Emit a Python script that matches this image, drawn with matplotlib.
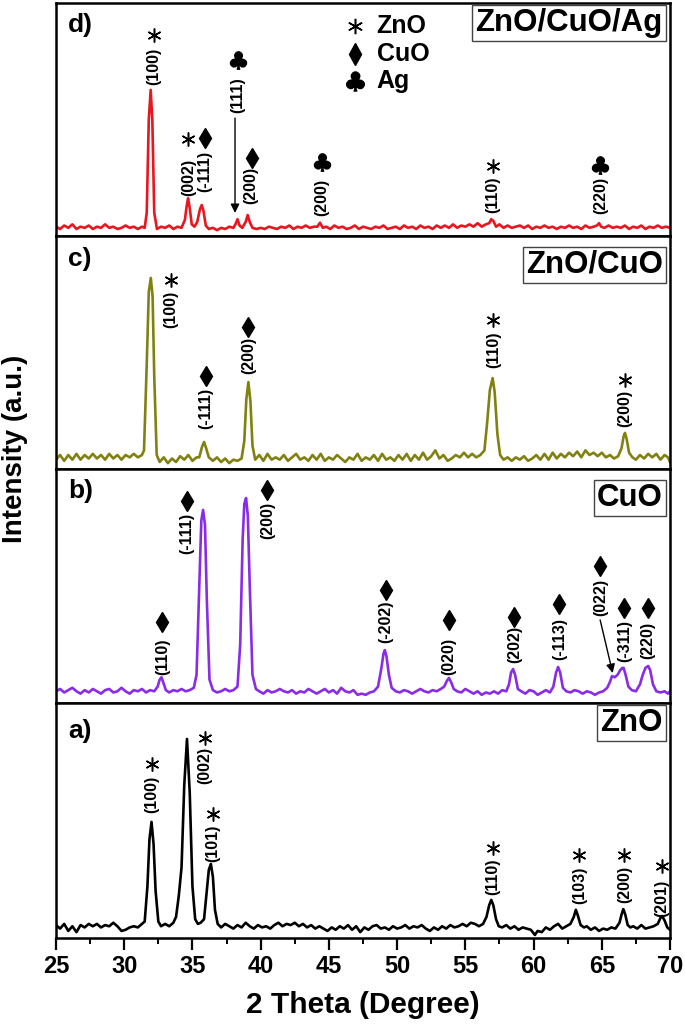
import matplotlib
matplotlib.use("Agg")
import matplotlib.pyplot as plt

plt.rcParams['font.family'] = ['Liberation Sans', 'DejaVu Sans']
plt.rcParams['font.weight'] = 'bold'

# ---------------- data: (2 theta, intensity in % of panel height) -------------
zno_points = [
    (25.0, 5.5), (25.3, 4.0), (25.6, 6.0), (25.9, 3.0), (26.2, 5.0), (26.5, 2.5), (26.8, 5.5),
    (27.1, 4.5), (27.4, 6.0), (27.7, 5.0), (28.0, 6.0), (28.3, 4.5), (28.6, 5.5), (28.9, 5.0),
    (29.2, 6.5), (29.5, 5.0), (29.8, 3.0), (30.1, 3.5), (30.4, 4.5), (30.7, 5.0), (31.0, 4.5),
    (31.3, 6.0), (31.5, 7.0), (31.7, 22.0), (31.85, 42.0), (32.0, 49.4), (32.15, 40.0),
    (32.3, 20.0), (32.5, 7.0), (32.7, 5.0), (33.0, 6.0), (33.3, 5.0), (33.6, 6.5), (33.8, 9.0),
    (34.0, 18.0), (34.2, 30.0), (34.4, 65.0), (34.6, 84.7), (34.8, 62.0), (35.0, 22.0),
    (35.2, 8.0), (35.4, 6.0), (35.6, 6.5), (35.85, 8.0), (36.05, 20.0), (36.2, 29.0),
    (36.35, 31.5), (36.5, 26.0), (36.65, 12.0), (36.85, 6.0), (37.1, 4.5), (37.4, 6.0),
    (37.7, 5.0), (38.0, 4.0), (38.3, 5.5), (38.6, 4.5), (38.9, 6.5), (39.2, 5.0), (39.5, 4.0),
    (39.8, 5.5), (40.1, 4.5), (40.4, 5.0), (40.7, 4.0), (41.0, 5.5), (41.3, 6.5), (41.6, 5.0),
    (41.9, 6.0), (42.2, 5.5), (42.5, 6.5), (42.8, 5.0), (43.1, 6.0), (43.4, 4.5), (43.7, 5.5),
    (44.0, 4.0), (44.3, 5.0), (44.6, 4.0), (44.9, 3.0), (45.2, 4.5), (45.5, 3.5), (45.8, 5.0),
    (46.1, 4.0), (46.4, 5.5), (46.7, 3.5), (47.0, 5.0), (47.3, 2.5), (47.6, 4.5), (47.9, 3.5),
    (48.2, 5.0), (48.5, 5.5), (48.8, 4.0), (49.1, 4.5), (49.4, 3.5), (49.7, 5.0), (50.0, 4.0),
    (50.3, 4.5), (50.6, 5.5), (50.9, 4.0), (51.2, 5.0), (51.5, 4.5), (51.8, 5.5), (52.1, 4.0),
    (52.4, 3.0), (52.7, 4.5), (53.0, 3.5), (53.3, 5.0), (53.6, 4.0), (53.9, 5.5), (54.2, 4.5),
    (54.5, 5.0), (54.8, 6.0), (55.1, 5.0), (55.4, 6.5), (55.7, 6.0), (56.0, 5.0), (56.3, 6.0),
    (56.55, 9.0), (56.75, 14.0), (56.9, 16.2), (57.05, 14.0), (57.25, 8.0), (57.45, 5.0),
    (57.7, 4.5), (58.0, 5.5), (58.3, 4.0), (58.6, 5.0), (58.9, 3.5), (59.2, 4.5), (59.5, 4.0),
    (59.8, 3.5), (60.1, 1.3), (60.3, 3.0), (60.6, 2.5), (60.9, 4.5), (61.2, 3.5), (61.5, 5.0),
    (61.8, 6.0), (62.1, 4.0), (62.4, 5.0), (62.7, 6.0), (62.95, 9.0), (63.1, 12.0),
    (63.25, 9.5), (63.45, 5.5), (63.7, 4.5), (63.9, 5.0), (64.2, 3.5), (64.5, 4.5), (64.8, 3.0),
    (65.1, 4.0), (65.4, 3.5), (65.7, 4.5), (66.0, 4.0), (66.3, 6.5), (66.45, 10.0),
    (66.58, 12.3), (66.72, 10.0), (66.9, 5.5), (67.1, 4.5), (67.3, 5.0), (67.6, 4.0),
    (67.9, 5.5), (68.2, 4.0), (68.5, 4.5), (68.8, 5.0), (69.1, 6.0), (69.3, 8.5),
    (69.42, 9.4), (69.6, 7.5), (69.8, 4.5), (70.0, 3.5),
]

cuo_points = [
    (25.0, 5.0), (25.3, 6.0), (25.6, 4.5), (25.9, 5.5), (26.2, 6.5), (26.5, 5.0), (26.8, 4.0),
    (27.1, 5.5), (27.4, 4.5), (27.7, 6.0), (28.0, 5.0), (28.3, 4.0), (28.6, 5.5), (28.9, 6.0),
    (29.2, 4.5), (29.5, 5.0), (29.8, 6.5), (30.1, 5.0), (30.4, 4.0), (30.7, 5.5), (31.0, 5.0),
    (31.3, 6.0), (31.6, 4.5), (31.9, 5.5), (32.2, 5.0), (32.45, 7.0), (32.6, 10.0),
    (32.73, 11.0), (32.85, 9.0), (33.05, 5.5), (33.3, 4.5), (33.6, 5.5), (33.9, 5.0),
    (34.2, 6.0), (34.5, 5.0), (34.8, 5.5), (35.1, 6.5), (35.3, 12.0), (35.5, 50.0),
    (35.65, 78.0), (35.78, 82.5), (35.92, 76.0), (36.05, 45.0), (36.25, 10.0), (36.5, 5.5),
    (36.8, 4.5), (37.1, 5.0), (37.4, 6.0), (37.7, 5.0), (38.0, 5.5), (38.3, 7.0), (38.5, 25.0),
    (38.68, 70.0), (38.8, 85.0), (38.93, 87.6), (39.06, 80.0), (39.2, 50.0), (39.4, 12.0),
    (39.65, 6.0), (39.9, 5.0), (40.2, 4.0), (40.5, 5.5), (40.8, 4.5), (41.1, 5.0), (41.4, 6.0),
    (41.7, 5.0), (42.0, 4.5), (42.3, 5.5), (42.6, 4.0), (42.9, 5.0), (43.2, 4.5), (43.5, 6.0),
    (43.8, 5.0), (44.1, 4.0), (44.4, 5.0), (44.7, 6.0), (45.0, 4.5), (45.3, 5.5), (45.6, 4.0),
    (45.9, 6.5), (46.2, 5.0), (46.5, 4.5), (46.8, 5.5), (47.1, 3.5), (47.4, 4.0), (47.7, 3.5),
    (48.0, 4.5), (48.3, 5.0), (48.6, 7.0), (48.85, 15.0), (49.0, 21.0), (49.1, 22.6),
    (49.22, 20.0), (49.4, 12.0), (49.6, 6.5), (49.9, 5.0), (50.2, 4.5), (50.5, 5.5),
    (50.8, 5.0), (51.1, 4.0), (51.4, 5.0), (51.7, 6.0), (52.0, 5.0), (52.3, 4.5), (52.6, 5.5),
    (52.9, 5.0), (53.2, 6.0), (53.45, 7.0), (53.65, 9.5), (53.8, 10.7), (53.95, 9.0),
    (54.15, 6.0), (54.4, 5.0), (54.7, 4.5), (55.0, 6.0), (55.3, 5.0), (55.6, 4.0), (55.9, 5.0),
    (56.2, 3.5), (56.5, 4.5), (56.8, 4.0), (57.1, 5.0), (57.4, 4.0), (57.7, 5.5), (58.0, 5.0),
    (58.2, 8.0), (58.35, 13.0), (58.5, 14.5), (58.65, 12.0), (58.85, 6.0), (59.1, 5.0),
    (59.4, 4.0), (59.7, 5.5), (60.0, 5.0), (60.3, 3.5), (60.6, 4.5), (60.9, 5.5), (61.2, 4.5),
    (61.45, 7.0), (61.65, 13.0), (61.8, 15.4), (61.95, 13.0), (62.15, 6.5), (62.4, 5.0),
    (62.7, 4.5), (63.0, 5.5), (63.3, 5.0), (63.6, 4.0), (63.9, 5.0), (64.2, 4.5), (64.5, 3.5),
    (64.8, 4.5), (65.1, 5.0), (65.4, 6.5), (65.6, 9.0), (65.75, 11.5), (65.95, 11.0),
    (66.15, 12.0), (66.35, 14.0), (66.5, 15.0), (66.6, 15.0), (66.75, 12.0), (66.95, 7.0),
    (67.2, 5.5), (67.5, 5.0), (67.8, 8.0), (68.0, 12.0), (68.2, 15.0), (68.4, 15.8),
    (68.55, 14.0), (68.75, 8.0), (69.0, 5.0), (69.3, 4.5), (69.6, 5.0), (69.85, 4.0),
    (70.0, 5.0),
]

znocuo_points = [
    (25.0, 4.0), (25.3, 6.0), (25.6, 3.5), (25.9, 6.0), (26.2, 4.0), (26.5, 6.5), (26.8, 4.0),
    (27.1, 6.0), (27.4, 4.5), (27.7, 6.5), (28.0, 4.5), (28.3, 6.0), (28.6, 4.0), (28.9, 6.5),
    (29.2, 4.5), (29.5, 6.0), (29.8, 4.0), (30.1, 6.0), (30.4, 5.0), (30.7, 6.5), (31.0, 5.0),
    (31.3, 6.0), (31.45, 8.0), (31.65, 45.0), (31.8, 76.0), (31.95, 82.0), (32.08, 74.0),
    (32.2, 40.0), (32.38, 6.0), (32.6, 3.0), (32.9, 5.0), (33.2, 2.5), (33.5, 4.5), (33.8, 3.0),
    (34.1, 5.5), (34.4, 4.0), (34.7, 6.0), (35.0, 3.5), (35.3, 5.0), (35.5, 5.0), (35.7, 9.5),
    (35.85, 11.6), (36.0, 9.0), (36.2, 5.0), (36.5, 3.5), (36.8, 5.0), (37.1, 3.0), (37.4, 4.5),
    (37.7, 2.5), (38.0, 4.0), (38.3, 3.5), (38.6, 4.5), (38.8, 12.0), (38.95, 30.0),
    (39.1, 37.3), (39.25, 29.0), (39.4, 10.0), (39.6, 4.0), (39.9, 6.0), (40.2, 3.5),
    (40.5, 6.5), (40.8, 4.0), (41.1, 5.0), (41.4, 4.0), (41.7, 6.0), (42.0, 3.5), (42.3, 5.0),
    (42.6, 6.5), (42.9, 4.0), (43.2, 5.0), (43.5, 3.5), (43.8, 6.0), (44.1, 4.0), (44.4, 6.5),
    (44.7, 3.5), (45.0, 5.0), (45.3, 4.0), (45.6, 6.0), (45.9, 4.5), (46.2, 3.0), (46.5, 5.0),
    (46.8, 4.0), (47.1, 6.5), (47.4, 3.5), (47.7, 5.0), (48.0, 4.0), (48.3, 6.0), (48.6, 3.5),
    (48.9, 6.5), (49.2, 4.0), (49.5, 5.0), (49.8, 3.5), (50.1, 6.0), (50.4, 4.0), (50.7, 6.5),
    (51.0, 3.5), (51.3, 6.0), (51.6, 4.0), (51.9, 7.0), (52.2, 4.0), (52.5, 5.5), (52.8, 8.0),
    (53.1, 4.5), (53.4, 6.0), (53.7, 3.5), (54.0, 4.5), (54.3, 6.0), (54.6, 5.0), (54.9, 7.0),
    (55.2, 5.0), (55.5, 6.5), (55.8, 5.0), (56.1, 6.0), (56.4, 8.0), (56.6, 20.0), (56.8, 34.0),
    (57.0, 39.0), (57.15, 33.0), (57.35, 15.0), (57.55, 6.0), (57.8, 4.0), (58.1, 5.0),
    (58.4, 3.5), (58.7, 5.0), (59.0, 4.0), (59.3, 5.5), (59.6, 3.5), (59.9, 4.5), (60.2, 6.0),
    (60.5, 4.0), (60.8, 6.5), (61.1, 4.0), (61.4, 7.0), (61.7, 4.5), (62.0, 6.5), (62.3, 5.0),
    (62.6, 7.0), (62.9, 5.5), (63.2, 7.5), (63.5, 5.0), (63.8, 8.0), (64.1, 6.0), (64.4, 7.0),
    (64.7, 5.5), (65.0, 7.0), (65.3, 5.0), (65.6, 6.0), (65.9, 4.5), (66.2, 5.5), (66.45, 9.0),
    (66.6, 14.0), (66.7, 15.5), (66.82, 13.0), (67.0, 7.0), (67.25, 5.0), (67.5, 4.0),
    (67.8, 6.0), (68.1, 4.5), (68.4, 6.5), (68.7, 5.0), (69.0, 6.5), (69.3, 4.0), (69.6, 6.0),
    (69.85, 5.0), (70.0, 3.0),
]

znocuoag_points = [
    (25.0, 4.0), (25.3, 3.0), (25.6, 4.5), (25.9, 3.5), (26.2, 5.0), (26.5, 3.0), (26.8, 4.0),
    (27.1, 3.5), (27.4, 4.5), (27.7, 3.0), (28.0, 4.0), (28.3, 3.5), (28.6, 5.0), (28.9, 3.5),
    (29.2, 4.0), (29.5, 3.0), (29.8, 3.5), (30.1, 4.5), (30.4, 3.5), (30.7, 4.0), (31.0, 3.0),
    (31.3, 4.0), (31.5, 3.5), (31.65, 10.0), (31.8, 50.0), (31.94, 62.7), (32.06, 50.0),
    (32.2, 10.0), (32.4, 3.0), (32.7, 4.0), (33.0, 3.5), (33.3, 4.5), (33.6, 3.0), (33.9, 4.0),
    (34.2, 3.5), (34.45, 7.0), (34.58, 13.0), (34.68, 16.2), (34.8, 12.0), (34.95, 5.0),
    (35.15, 4.0), (35.35, 6.0), (35.55, 11.5), (35.68, 13.3), (35.8, 11.0), (35.98, 4.5),
    (36.2, 3.0), (36.5, 3.5), (36.8, 2.5), (37.1, 3.5), (37.4, 3.0), (37.7, 4.0), (38.0, 3.5),
    (38.15, 5.0), (38.3, 7.2), (38.45, 4.5), (38.65, 3.5), (38.9, 6.0), (39.05, 9.0),
    (39.2, 6.0), (39.4, 3.5), (39.7, 3.0), (40.0, 3.5), (40.3, 3.0), (40.6, 4.0), (40.9, 3.5),
    (41.2, 3.0), (41.5, 4.0), (41.8, 3.5), (42.1, 4.5), (42.4, 3.0), (42.7, 4.0), (43.0, 3.5),
    (43.3, 4.5), (43.6, 3.5), (43.9, 4.0), (44.15, 4.0), (44.35, 5.7), (44.55, 3.5),
    (44.8, 4.0), (45.1, 3.0), (45.4, 4.5), (45.7, 3.5), (46.0, 4.0), (46.3, 3.0), (46.6, 3.5),
    (46.9, 4.5), (47.2, 3.0), (47.5, 4.0), (47.8, 3.5), (48.1, 3.0), (48.4, 4.0), (48.7, 3.5),
    (49.0, 4.5), (49.3, 3.0), (49.6, 3.5), (49.9, 4.0), (50.2, 3.0), (50.5, 4.5), (50.8, 3.5),
    (51.1, 4.0), (51.4, 3.0), (51.7, 4.5), (52.0, 3.5), (52.3, 4.0), (52.6, 3.0), (52.9, 4.5),
    (53.2, 3.5), (53.5, 4.5), (53.8, 3.5), (54.1, 5.0), (54.4, 3.5), (54.7, 4.5), (55.0, 4.0),
    (55.3, 5.0), (55.6, 4.0), (55.9, 5.5), (56.2, 4.0), (56.5, 5.0), (56.75, 5.5), (56.9, 7.2),
    (57.05, 6.5), (57.25, 4.0), (57.5, 5.0), (57.8, 3.5), (58.1, 4.5), (58.4, 3.5), (58.7, 4.0),
    (59.0, 4.5), (59.3, 3.5), (59.6, 4.5), (59.9, 3.0), (60.2, 4.0), (60.5, 3.5), (60.8, 4.5),
    (61.1, 3.5), (61.4, 4.0), (61.7, 3.0), (62.0, 4.0), (62.3, 3.5), (62.6, 4.5), (62.9, 3.5),
    (63.2, 4.0), (63.5, 3.0), (63.8, 4.5), (64.1, 3.5), (64.4, 4.0), (64.65, 4.5), (64.8, 5.5),
    (64.95, 4.0), (65.2, 3.5), (65.5, 4.5), (65.8, 3.5), (66.1, 4.0), (66.4, 3.5), (66.7, 4.5),
    (67.0, 3.0), (67.3, 4.0), (67.6, 3.5), (67.9, 4.5), (68.2, 3.0), (68.5, 4.0), (68.8, 3.5),
    (69.1, 4.5), (69.4, 3.5), (69.7, 4.0), (70.0, 3.5),
]

# peak annotations: (hkl text, 2theta, height of text centre)
zno_labels = [("(100)", 32.0, 61.3), ("(002)", 35.9, 73.6), ("(101)", 36.5, 40.4),
              ("(110)", 57.0, 26.0), ("(103)", 63.35, 22.6), ("(200)", 66.65, 22.6),
              ("(201)", 69.4, 17.0)]
zno_marks = [("*", 32.0, 74.0), ("*", 35.9, 85.1), ("*", 36.5, 52.8), ("*", 57.0, 38.3),
             ("*", 63.35, 35.3), ("*", 66.65, 35.3), ("*", 69.4, 30.6)]

cuo_labels = [("(110)", 32.8, 19.7), ("(-111)", 34.6, 72.6), ("(200)", 40.5, 78.2),
              ("(-202)", 49.2, 34.6), ("(020)", 53.8, 19.7), ("(202)", 58.6, 25.2),
              ("(-113)", 61.9, 27.4), ("(022)", 64.9, 45.3), ("(-311)", 66.65, 26.5),
              ("(220)", 68.4, 26.9)]
cuo_marks = [("D", 32.8, 34.6), ("D", 34.6, 86.3), ("D", 40.5, 91.0), ("D", 49.2, 48.3),
             ("D", 53.8, 35.5), ("D", 58.6, 36.8), ("D", 61.9, 42.3), ("D", 64.9, 58.5),
             ("D", 66.65, 40.6), ("D", 68.4, 40.6)]

znocuo_labels = [("(100)", 33.4, 68.7), ("(-111)", 36.0, 25.8), ("(200)", 39.1, 48.9),
                 ("(110)", 57.05, 51.1), ("(200)", 66.7, 26.2)]
znocuo_marks = [("*", 33.4, 81.1), ("D", 36.0, 39.9), ("D", 39.1, 60.9),
                ("*", 57.05, 63.9), ("*", 66.7, 38.2)]

znocuoag_labels = [("(100)", 32.2, 73.0), ("(002)", 34.7, 25.3), ("(-111)", 35.9, 27.5),
                   ("(111)", 38.35, 60.5), ("(200)", 39.25, 21.5), ("(200)", 44.5, 16.7),
                   ("(110)", 57.0, 17.6), ("(220)", 64.9, 17.6)]
znocuoag_marks = [("*", 32.2, 86.3), ("*", 34.7, 41.6), ("D", 35.9, 42.0), ("C", 38.35, 75.5),
                  ("D", 39.35, 33.5), ("C", 44.5, 31.8), ("*", 57.0, 30.0), ("C", 64.9, 30.5)]

# arrows: (start 2theta, start height, end 2theta, end height)
znocuoag_arrows = [(38.12, 50.6, 38.12, 9.9)]
cuo_arrows = [(64.88, 35.5, 65.8, 12.8)]

legend_items = [("*", "ZnO", 90.1), ("D", "CuO", 78.1), ("C", "Ag", 66.5)]

panels = [
    # (points, colour, letter, box text, labels, marks, arrows)
    (znocuoag_points, "#e8161e", "d)", "ZnO/CuO/Ag", znocuoag_labels, znocuoag_marks, znocuoag_arrows),
    (znocuo_points, "#818112", "c)", "ZnO/CuO", znocuo_labels, znocuo_marks, []),
    (cuo_points, "#8a2be8", "b)", "CuO", cuo_labels, cuo_marks, cuo_arrows),
    (zno_points, "#000000", "a)", "ZnO", zno_labels, zno_marks, []),
]

# ---------------- figure ----------------
W, H = 685, 1026
fig = plt.figure(figsize=(W / 100, H / 100), dpi=100)

bounds = [3, 236, 469, 703, 938]
left, right = 56, 670
letter_y = [0.905, 0.9, 0.905, 0.88]
box_top = [0.978, 0.94, 0.94, 0.978]


def draw_mark(ax, kind, x, y, scale=1.0):
    if kind == "*":
        ax.plot([x], [y], marker=(6, 2, 0), ms=10 * scale, mew=1.1, color="black",
                linestyle="none", clip_on=False)
    elif kind == "D":
        ax.plot([x], [y], marker="d", ms=10 * scale, color="black", linestyle="none",
                clip_on=False)
    else:
        ax.plot([x], [y], marker=r"$\clubsuit$", ms=12.5 * scale, color="black",
                linestyle="none", clip_on=False)


axes = []
for i, (pts, col, letter, boxtxt, labels, marks, arrows) in enumerate(panels):
    top_px, bot_px = bounds[i], bounds[i + 1]
    ax = fig.add_axes([left / W, 1 - bot_px / H, (right - left) / W, (bot_px - top_px) / H])
    axes.append(ax)
    xs = [p[0] for p in pts]
    ys = [p[1] for p in pts]
    ax.plot(xs, ys, color=col, lw=1.9)
    ax.set_xlim(25, 70)
    ax.set_ylim(0, 100)
    ax.set_yticks([])
    for s in ax.spines.values():
        s.set_linewidth(1.8)
    ax.text(0.02, letter_y[i], letter, transform=ax.transAxes, fontsize=19,
            fontweight="bold", ha="left", va="center")
    ax.text(0.988, box_top[i], boxtxt, transform=ax.transAxes,
            fontsize=22.5, fontweight="bold", ha="right", va="top",
            bbox=dict(boxstyle="square,pad=0.1", fc="white", ec="#444444", lw=1.0))
    for txt, x, y in labels:
        ax.text(x, y, txt, rotation=90, ha="center", va="center", fontsize=11.5,
                fontweight="bold")
    for kind, x, y in marks:
        draw_mark(ax, kind, x, y)
    for x0, y0, x1, y1 in arrows:
        ax.annotate("", xy=(x1, y1), xytext=(x0, y0),
                    arrowprops=dict(arrowstyle="-|>", lw=1.0, color="black",
                                    mutation_scale=13, shrinkA=0, shrinkB=0))
    if i < 3:
        ax.set_xticks([])
    else:
        ax.set_xticks(range(25, 71, 5))
        ax.set_xticks([x + 2.5 for x in range(25, 70, 5)], minor=True)
        ax.tick_params(axis="x", which="major", direction="out", length=8.5, width=1.6,
                       labelsize=17, pad=4)
        ax.tick_params(axis="x", which="minor", direction="out", length=4, width=1.4)
        for lab in ax.get_xticklabels():
            lab.set_fontweight("bold")

# legend in panel d
axd = axes[0]
for kind, name, y in legend_items:
    draw_mark(axd, kind, 46.92, y, scale=1.1)
    axd.text(48.5, y, name, fontsize=18, fontweight="bold", ha="left", va="center")

fig.text((left + right) / 2 / W, 1 - 1013 / H, "2 Theta (Degree)", ha="center",
         va="baseline", fontsize=21.5, fontweight="bold")
fig.text(15 / W, 1 - 449 / H, "Intensity (a.u.)", rotation=90, ha="center", va="center",
         fontsize=20, fontweight="bold")

fig.savefig("out.png", dpi=100)
